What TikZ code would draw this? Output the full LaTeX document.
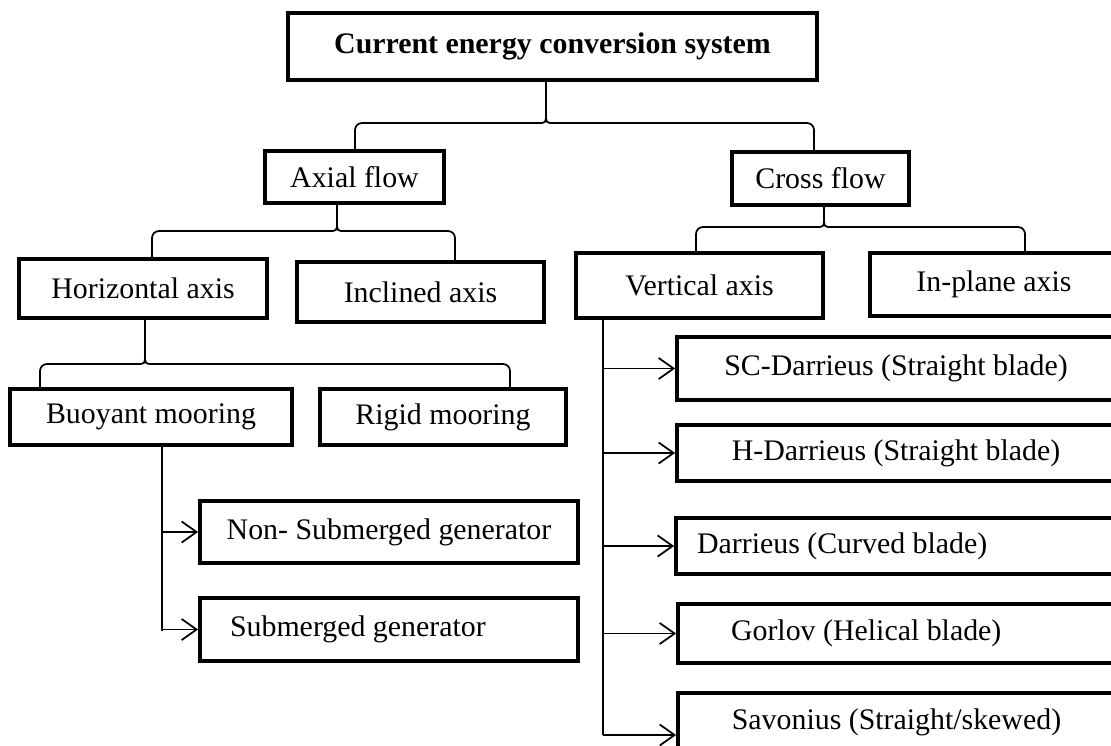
\documentclass[tikz,border=0pt]{standalone}
\usepackage{fontspec}
\setmainfont{Liberation Serif}
\usetikzlibrary{arrows.meta,calc}

% brace from a parent box down to two child boxes:
% #1 parent, #2 tip x, #3 bar y, #4 left child, #5 left leg x, #6 right child, #7 right leg x
\newcommand{\treebrace}[7]{%
  \path (#2,#3) coordinate (bt) (#5,0) coordinate (bl) (#7,0) coordinate (br);
  \draw[link] (#1.south -| bt) -- ($(bt)+(0,-10)$) .. controls (bt) .. ($(bt)+(-8,0)$)
    [rounded corners=4pt] -| (bl |- #4.north);
  \draw[link] ($(bt)+(0,-10)$) .. controls (bt) .. ($(bt)+(8,0)$)
    [rounded corners=4pt] -| (br |- #6.north);
}

\begin{document}
\begin{tikzpicture}[x=0.02cm,y=-0.02cm,
  font=\fontsize{17}{20}\selectfont,
  box/.style 2 args={draw,line width=2.2pt,inner sep=0pt,
    minimum width=#1cm,minimum height=#2cm},
  link/.style={line width=1pt},
  arr/.style={link,-{Straight Barb[length=8.5pt,width=12pt]}}]

\useasboundingbox (0,0) rectangle (1111,745);

\node[box={10.58}{1.34}] (top) at (552.5,46.5) {\textbf{Current energy conversion system}};

\node[box={3.58}{1.04}] (axial) at (354.5,177) {Axial flow};
\node[box={3.54}{1.06}] (cross) at (820.5,178.5) {Cross flow};

\node[box={4.96}{1.18}] (horiz) at (143,288.5) {Horizontal axis};
\node[box={4.94}{1.20}] (incl) at (420.5,292) {Inclined axis};
\node[box={4.94}{1.30}] (vert) at (699.5,285.5) {Vertical axis};
\node[box={4.96}{1.26}] (inplane) at (994,284.5) {In-plane axis};

\node[box={5.64}{1.12}] (buoy) at (151,417) {Buoyant mooring};
\node[box={4.92}{1.12}] (rigid) at (443,417) {Rigid mooring};

\node[box={7.56}{1.24}] (nonsub) at (389,532) {Non- Submerged generator};
\node[box={7.56}{1.26}] (sub) at (389,629.5)
  {\makebox[6.36cm][l]{Submerged generator}};

\node[box={8.76}{1.26}] (sc) at (896,368.5) {SC-Darrieus (Straight blade)};
\node[box={8.76}{1.12}] (hd) at (896,453) {H-Darrieus (Straight blade)};
\node[box={8.78}{1.12}] (dar) at (895.5,546)
  {\makebox[7.94cm][l]{Darrieus (Curved blade)}};
\node[box={8.74}{1.18}] (gor) at (896.5,633.5)
  {\makebox[6.62cm][l]{Gorlov (Helical blade)}};
\node[box={8.74}{1.16}] (sav) at (896.5,722) {Savonius (Straight/skewed)};

% braces
\treebrace{top}{546}{123}{axial}{355}{cross}{814}
\treebrace{axial}{337}{231}{horiz}{152}{incl}{455}
\treebrace{cross}{824}{227}{vert}{696}{inplane}{1025}
\treebrace{horiz}{145}{364}{buoy}{40}{rigid}{510}

% trunks with arrows
\coordinate (btrunk) at (162,631);
\draw[link] (buoy.south -| btrunk) -- (btrunk);
\foreach \n in {nonsub,sub}
  \draw[arr] (btrunk |- \n.west) -- (\n.west);

\coordinate (vtrunk) at (603,735);
\draw[link] (vert.south -| vtrunk) -- (vtrunk);
\foreach \n in {sc,hd,dar,gor}
  \draw[arr] (vtrunk |- \n.west) -- (\n.west);
\draw[arr] (vtrunk) -- (vtrunk -| sav.west);

\end{tikzpicture}
\end{document}
